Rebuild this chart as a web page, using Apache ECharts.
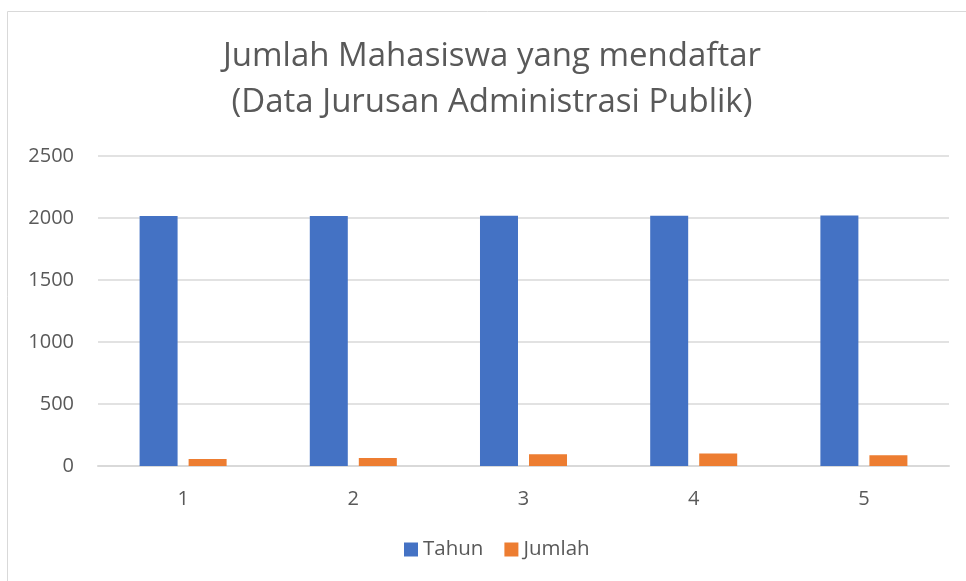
<!DOCTYPE html>
<html>
<head>
<meta charset="utf-8">
<script src="https://cdn.jsdelivr.net/npm/echarts@6/dist/echarts.min.js"></script>
<style>
  html, body { margin: 0; padding: 0; background: #fff; }
  #chart { width: 966px; height: 581px; }
</style>
</head>
<body>
<div id="chart"></div>
<script>
  // data
  var categories = ['1', '2', '3', '4', '5'];
  var tahun = [2016, 2017, 2018, 2019, 2020];
  var jumlah = [57, 65, 95, 100, 87];
  var yTicks = [0, 500, 1000, 1500, 2000, 2500];

  var textColor = '#595959';
  var lineColor = '#d9d9d9';
  var font = '"Open Sans", "Liberation Sans", sans-serif';

  var myChart = echarts.init(document.getElementById('chart'));
  var option = {
    animation: false,
    color: ['#4472C4', '#ED7D31'],
    textStyle: { fontFamily: font },
    title: {
      text: 'Jumlah Mahasiswa yang mendaftar\n(Data Jurusan Administrasi Publik)',
      left: 492,
      top: 34,
      textAlign: 'center',
      padding: 0,
      textStyle: {
        color: textColor,
        fontSize: 33,
        fontWeight: 'normal',
        fontFamily: font,
        lineHeight: 46
      }
    },
    legend: {
      left: 404,
      top: 539,
      padding: 0,
      icon: 'rect',
      itemWidth: 14,
      itemHeight: 14,
      itemGap: 21,
      textStyle: { color: textColor, fontSize: 20.5, fontFamily: font },
      data: ['Tahun', 'Jumlah']
    },
    grid: {
      left: 98,
      right: 17,
      top: 156,
      bottom: 115
    },
    xAxis: {
      type: 'category',
      data: categories,
      axisTick: { show: false },
      axisLine: { lineStyle: { color: lineColor, width: 2 } },
      axisLabel: { color: textColor, fontSize: 20, margin: 23 }
    },
    yAxis: {
      type: 'value',
      min: yTicks[0],
      max: yTicks[yTicks.length - 1],
      interval: 500,
      axisLine: { show: false },
      axisTick: { show: false },
      splitLine: { lineStyle: { color: lineColor, width: 1.5 } },
      axisLabel: {
        color: textColor,
        fontSize: 20,
        margin: 24,
        formatter: function (v) { return String(v); }
      }
    },
    series: [{
      name: 'Tahun',
      type: 'bar',
      data: tahun,
      barWidth: 38,
      barGap: '29%'
    }, {
      name: 'Jumlah',
      type: 'bar',
      data: jumlah,
      barWidth: 38,
      barGap: '29%'
    }],
    graphic: [{
      type: 'rect',
      silent: true,
      shape: { x: 7.5, y: 11.5, width: 1000, height: 1000 },
      style: { fill: 'none', stroke: lineColor, lineWidth: 1 }
    }]
  };
  myChart.setOption(option);
  window.addEventListener('resize', function () {
    myChart.resize();
  });
</script>
</body>
</html>
